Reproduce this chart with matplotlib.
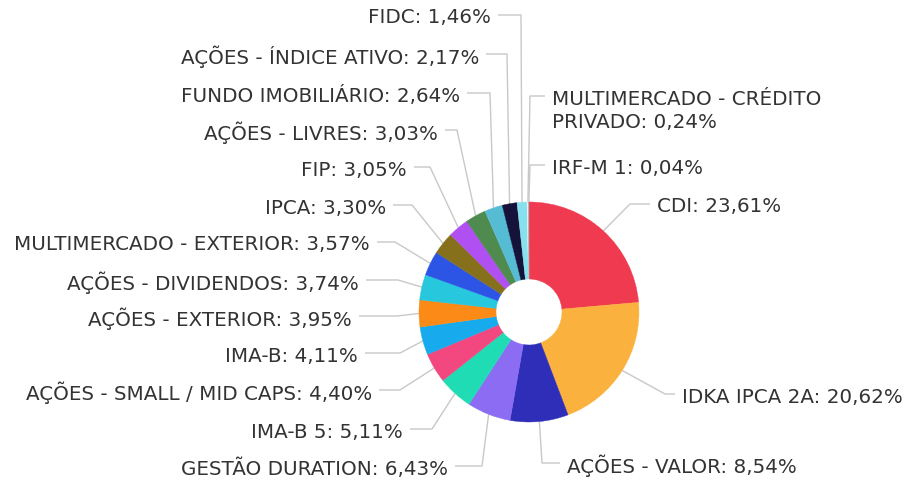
import numpy as np
import matplotlib
matplotlib.use('Agg')
import matplotlib.pyplot as plt

plt.rcParams.update({
    "font.family": ["DejaVu Sans"],
    "font.size": 14.3,
})

# data, clockwise from 12 o'clock
categories = [
    "CDI", "IDKA IPCA 2A", "AÇÕES - VALOR", "GESTÃO DURATION", "IMA-B 5",
    "AÇÕES - SMALL / MID CAPS", "IMA-B", "AÇÕES - EXTERIOR", "AÇÕES - DIVIDENDOS",
    "MULTIMERCADO - EXTERIOR", "IPCA", "FIP", "AÇÕES - LIVRES",
    "FUNDO IMOBILIÁRIO", "AÇÕES - ÍNDICE ATIVO", "FIDC",
    "MULTIMERCADO - CRÉDITO\nPRIVADO", "IRF-M 1",
]
shares = [23.61, 20.62, 8.54, 6.43, 5.11, 4.40, 4.11, 3.95, 3.74,
          3.57, 3.30, 3.05, 3.03, 2.64, 2.17, 1.46, 0.24, 0.04]
colors = ['#f03a50', '#fbb13d', '#2e2eb8', '#8b6cf3', '#20dcb4', '#f2477f',
          '#17abee', '#fb8a17', '#27c7de', '#2c55e6', '#86701c', '#b050f2',
          '#4f8a4e', '#55bcd4', '#15133a', '#86e0ee', '#eef4f5', '#a0a0a0']

# label layout in pixels: side, text edge x, connector y, elbow x
label_layout = [
    ('r', 657, 204, 630), ('r', 682, 394, 665), ('r', 567, 463, 542),
    ('l', 448, 466, 482), ('l', 403, 429, 432), ('l', 372, 390, 400),
    ('l', 358, 353, 400), ('l', 352, 316, 397), ('l', 359, 280, 398),
    ('l', 370, 242, 395), ('l', 386, 205, 412), ('l', 407, 167, 430),
    ('l', 438, 130, 457), ('l', 460, 93, 490), ('l', 479, 54, 507),
    ('l', 491, 15, 521), ('r', 552, 96, 530), ('r', 552, 165, 530),
]

W, H = 905, 486
CX, CY, R, HOLE = 529, 312, 110, 33
LINE = '#c8c8c8'
TEXT = '#333333'


def fy(y):
    # pixel y (top-down) -> data y
    return H - y


fig = plt.figure(figsize=(W / 100, H / 100), dpi=100)
ax = fig.add_axes([0, 0, 1, 1])

wedges, _ = ax.pie(shares, colors=colors, startangle=90, counterclock=False,
                   center=(CX, fy(CY)), radius=R,
                   wedgeprops=dict(width=R - HOLE, linewidth=0.3))
for w in wedges:
    w.set_edgecolor(w.get_facecolor())

ax.set_xlim(0, W)
ax.set_ylim(0, H)
ax.set_aspect('equal')
ax.axis('off')

cum = np.cumsum([0] + shares[:-1])
total = sum(shares)
for name, val, start, (side, tx, ly, ex) in zip(categories, shares, cum, label_layout):
    mid = start + val / 2
    theta = np.deg2rad(90 - 360 * mid / total)
    px = CX + R * np.cos(theta)
    py = CY - R * np.sin(theta)
    gap = 7
    seg_x = tx + gap if side == 'l' else tx - gap
    ax.plot([seg_x, ex, px], [fy(ly), fy(ly), fy(py)], color=LINE, lw=1,
            solid_capstyle='butt', zorder=0)
    text = f"{name}: {val:.2f}%".replace('.', ',')
    if '\n' in name:
        ax.text(tx, fy(ly - 6), text, ha='left', va='top', color=TEXT,
                linespacing=1.3)
    else:
        ax.text(tx, fy(ly + 3), text, ha='right' if side == 'l' else 'left',
                va='center', color=TEXT)

fig.savefig('out.png', dpi=100, facecolor='white')
